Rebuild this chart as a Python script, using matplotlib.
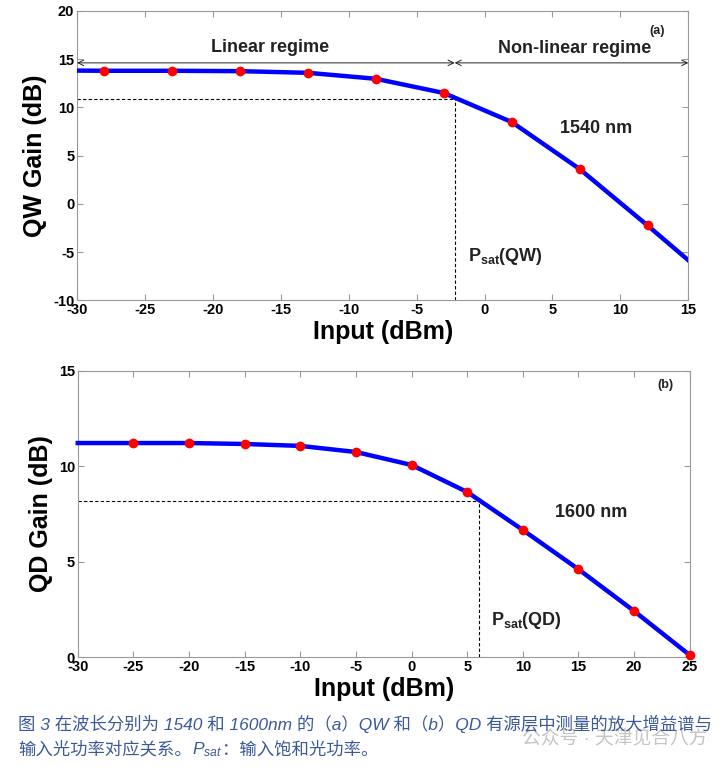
import matplotlib.pyplot as plt

plt.rcParams['font.family'] = ['Liberation Sans', 'Noto Sans CJK SC']
plt.rcParams['axes.unicode_minus'] = False
plt.rcParams['mathtext.fontset'] = 'custom'
plt.rcParams['mathtext.rm'] = 'Liberation Sans'
plt.rcParams['mathtext.bf'] = 'Liberation Sans:bold'
plt.rcParams['mathtext.it'] = 'Liberation Sans:italic'

# (a) QW, 1540 nm
qw_x = [-30, -28, -23, -18, -13, -8, -3, 2, 7, 12, 15]
qw_gain = [13.8, 13.78, 13.78, 13.74, 13.57, 12.95, 11.48, 8.47, 3.6, -2.25, -5.85]
qw_marker_x = [-28, -23, -18, -13, -8, -3, 2, 7, 12]
qw_marker_gain = [13.78, 13.78, 13.74, 13.57, 12.95, 11.48, 8.47, 3.6, -2.25]
qw_psat_x = -2.2
qw_psat_gain = 10.9
qw_arrow_y = 14.6

# (b) QD, 1600 nm
qd_x = [-30, -25, -20, -15, -10, -5, 0, 5, 10, 15, 20, 25]
qd_gain = [11.22, 11.22, 11.22, 11.17, 11.07, 10.75, 10.07, 8.65, 6.66, 4.6, 2.41, 0.1]
qd_marker_x = [-25, -20, -15, -10, -5, 0, 5, 10, 15, 20, 25]
qd_marker_gain = [11.22, 11.22, 11.17, 11.07, 10.75, 10.07, 8.65, 6.66, 4.6, 2.41, 0.1]
qd_psat_x = 6.1
qd_psat_gain = 8.18

fig = plt.figure(figsize=(7.2, 7.68), dpi=100)
ax1 = fig.add_axes([0.107, 0.609, 0.849, 0.377])
ax2 = fig.add_axes([0.108, 0.1445, 0.85, 0.3725])


def style_axes(ax):
    for s in ax.spines.values():
        s.set_color('#999999')
        s.set_linewidth(0.8)
    ax.tick_params(direction='in', top=True, right=True, length=4,
                   color='#999999', labelsize=10.5, pad=2)
    for lab in ax.get_xticklabels() + ax.get_yticklabels():
        lab.set_fontweight('bold')


# top panel
ax1.plot(qw_x, qw_gain, color='#0000ff', lw=3.2, zorder=3)
ax1.plot(qw_marker_x, qw_marker_gain, 'o', color='#ff0000', ms=6, zorder=4)
ax1.plot([-30, qw_psat_x], [qw_psat_gain, qw_psat_gain], 'k--', lw=0.8, dashes=(3, 2))
ax1.plot([qw_psat_x, qw_psat_x], [-10, qw_psat_gain], 'k--', lw=0.8, dashes=(3, 2))
ax1.annotate('', xy=(-30, qw_arrow_y), xytext=(qw_psat_x, qw_arrow_y),
             arrowprops=dict(arrowstyle='<->', lw=0.7, color='#222222',
                             shrinkA=0, shrinkB=0))
ax1.annotate('', xy=(qw_psat_x, qw_arrow_y), xytext=(15, qw_arrow_y),
             arrowprops=dict(arrowstyle='<->', lw=0.7, color='#222222',
                             shrinkA=0, shrinkB=0))
ax1.text(-15.8, 16.2, 'Linear regime', ha='center', va='center',
         fontsize=13, fontweight='bold', color='#222222')
ax1.text(6.6, 16.1, 'Non-linear regime', ha='center', va='center',
         fontsize=13, fontweight='bold', color='#222222')
ax1.text(12.7, 17.9, '(a)', ha='center', va='center', fontsize=9,
         fontweight='bold', color='#222222')
ax1.text(8.2, 7.8, '1540 nm', ha='center', va='center', fontsize=13,
         fontweight='bold', color='#222222')
ax1.text(-1.2, -5.5, r'P$_{\mathbf{sat}}$(QW)', ha='left', va='center',
         fontsize=13, fontweight='bold', color='#222222')
ax1.set_xlim(-30, 15)
ax1.set_ylim(-10, 20)
ax1.set_xticks(range(-30, 16, 5))
ax1.set_yticks(range(-10, 21, 5))
ax1.set_xlabel('Input (dBm)', fontsize=18, fontweight='bold', labelpad=2)
ax1.set_ylabel('QW Gain (dB)', fontsize=18, fontweight='bold', labelpad=4)
style_axes(ax1)

# bottom panel
ax2.plot(qd_x, qd_gain, color='#0000ff', lw=3.2, zorder=3, clip_on=False)
ax2.plot(qd_marker_x, qd_marker_gain, 'o', color='#ff0000', ms=6, zorder=4,
         clip_on=False)
ax2.plot([-30, qd_psat_x], [qd_psat_gain, qd_psat_gain], 'k--', lw=0.8, dashes=(3, 2))
ax2.plot([qd_psat_x, qd_psat_x], [0, qd_psat_gain], 'k--', lw=0.8, dashes=(3, 2))
ax2.text(22.8, 14.25, '(b)', ha='center', va='center', fontsize=9,
         fontweight='bold', color='#222222')
ax2.text(16.1, 7.6, '1600 nm', ha='center', va='center', fontsize=13,
         fontweight='bold', color='#222222')
ax2.text(7.1, 1.9, r'P$_{\mathbf{sat}}$(QD)', ha='left', va='center',
         fontsize=13, fontweight='bold', color='#222222')
ax2.set_xlim(-30, 25)
ax2.set_ylim(0, 15)
ax2.set_xticks(range(-30, 26, 5))
ax2.set_yticks(range(0, 16, 5))
ax2.set_xlabel('Input (dBm)', fontsize=18, fontweight='bold', labelpad=2)
ax2.set_ylabel('QD Gain (dB)', fontsize=18, fontweight='bold', labelpad=4)
style_axes(ax2)

# watermark (behind caption)
fig.text(0.725, 0.038, '公众号 · 天津见合八方', fontsize=13.5, color='#c4c4c4',
         va='center', zorder=0)

# caption, second line built from pieces so CJK and subscript both render
cap_color = '#3b5998'
fig.text(0.025, 0.057, '图 3 在波长分别为 1540 和 1600nm 的（a）QW 和（b）QD 有源层中测量的放大增益谱与',
         fontsize=12.5, style='italic', color=cap_color, va='center')
renderer = fig.canvas.get_renderer()
x = 0.025
for piece in ['输入光功率对应关系。', r'$\mathit{P_{sat}}$', '：输入饱和光功率。']:
    t = fig.text(x, 0.024, piece, fontsize=12.5, style='italic',
                 color=cap_color, va='center')
    bb = t.get_window_extent(renderer)
    x += bb.width / fig.bbox.width

fig.savefig('out.png', dpi=100)
